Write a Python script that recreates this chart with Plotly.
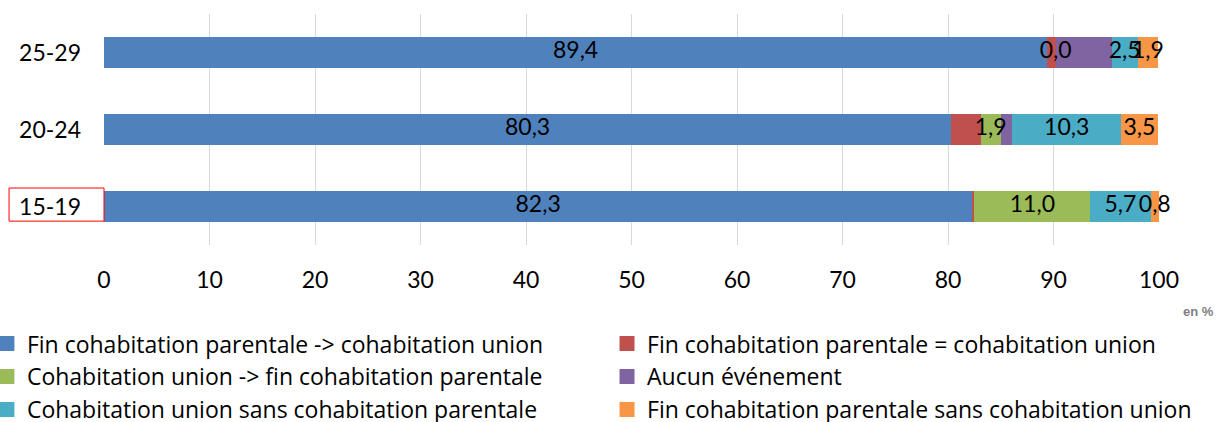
import plotly.graph_objects as go

categories = ["15-19", "20-24", "25-29"]
series_names = [
    "Fin cohabitation parentale -> cohabitation union",
    "Fin cohabitation parentale = cohabitation union",
    "Cohabitation union -> fin cohabitation parentale",
    "Aucun événement",
    "Cohabitation union sans cohabitation parentale",
    "Fin cohabitation parentale sans cohabitation union",
]
fin_vers_union = [82.3, 80.3, 89.4]
fin_egal_union = [0.2, 2.8, 0.8]
union_vers_fin = [11.0, 1.9, 0.0]
aucun = [0.0, 1.1, 5.3]
union_sans = [5.7, 10.3, 2.5]
fin_sans = [0.8, 3.5, 1.9]
series_values = [fin_vers_union, fin_egal_union, union_vers_fin, aucun, union_sans, fin_sans]
labelled = [True, False, True, False, True, True]
colors = ["#4F81BD", "#C0504D", "#9BBB59", "#8064A2", "#4BACC6", "#F79646"]
x_ticks = list(range(0, 101, 10))

FONT = "Lato"
LEG_FONT = "Open Sans"
fig = go.Figure()

cum = [0.0] * len(categories)
lx, ly, lt = [], [], []
for name, vals, col, lab in zip(series_names, series_values, colors, labelled):
    fig.add_trace(go.Bar(
        y=categories, x=vals, orientation="h", name=name,
        marker=dict(color=col, line=dict(width=0)),
        showlegend=False, hoverinfo="x+name",
    ))
    if lab:
        for i, v in enumerate(vals):
            lx.append(cum[i] + v / 2)
            ly.append(categories[i])
            lt.append(f"{v:.1f}".replace(".", ","))
    cum = [c + v for c, v in zip(cum, vals)]

fig.add_trace(go.Scatter(
    x=lx, y=ly, text=lt, mode="text", showlegend=False, hoverinfo="skip",
    textfont=dict(family=FONT, size=23, color="black"), cliponaxis=False,
))

# legend entries: left column -> legend, right column -> legend2
for k, (name, col) in enumerate(zip(series_names, colors)):
    fig.add_trace(go.Scatter(
        x=[None], y=[None], mode="markers", name=name,
        marker=dict(symbol="square", size=15, color=col),
        legend="legend" if k % 2 == 0 else "legend2",
        legendgroup=f"g{k}",
    ))

leg_common = dict(
    xref="paper", yref="paper", xanchor="left", yanchor="top",
    orientation="v", font=dict(family=LEG_FONT, size=23, color="black"),
    bgcolor="rgba(0,0,0,0)", itemwidth=30, tracegroupgap=3, traceorder="normal",
)

fig.update_layout(
    width=1223, height=422,
    margin=dict(l=104, r=64, t=14, b=177, autoexpand=False),
    barmode="stack", bargap=0.6,
    plot_bgcolor="white", paper_bgcolor="white",
    font=dict(family=FONT, size=23, color="black"),
    xaxis=dict(
        range=[0, 100], tickvals=x_ticks, showgrid=True, gridcolor="#D9D9D9",
        gridwidth=1, zeroline=False, showline=False, ticks="", tickangle=0,
        tickfont=dict(family=FONT, size=23), fixedrange=True, automargin=False,
        ticklabelstandoff=19,
    ),
    yaxis=dict(
        categoryorder="array", categoryarray=categories, range=[-0.5, 2.5],
        showgrid=False, zeroline=False, showline=False, ticks="", automargin=False,
        ticklabelstandoff=22, tickfont=dict(family=FONT, size=23), fixedrange=True,
    ),
    legend=dict(x=-0.111, y=-0.334, **leg_common),
    legend2=dict(x=0.4768, y=-0.334, **leg_common),
    annotations=[dict(
        text="<b>en %</b>", xref="paper", yref="paper", x=1.037, y=-0.29,
        xanchor="center", yanchor="middle", showarrow=False,
        font=dict(family="Liberation Sans", size=13, color="#7F7F7F"),
    )],
    shapes=[dict(
        type="rect", xref="paper", yref="y", x0=-0.090, x1=0.0, y0=-0.19, y1=0.24,
        line=dict(color="#FF0000", width=1), fillcolor="rgba(0,0,0,0)",
    )],
)

fig.write_html("out.html", config={"displayModeBar": False},
               post_script="document.body.style.margin='0px';")
